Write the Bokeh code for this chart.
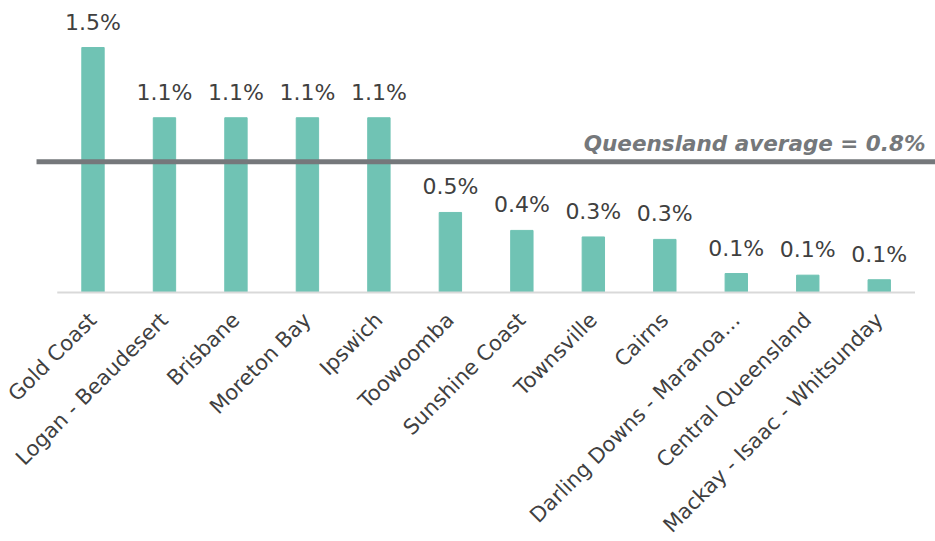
from bokeh.plotting import figure
from bokeh.models import Range1d, Label, LabelSet, ColumnDataSource
from bokeh.core.properties import value
from bokeh.embed import file_html
from bokeh.resources import INLINE
from math import pi

categories = ["Gold Coast", "Logan - Beaudesert", "Brisbane", "Moreton Bay", "Ipswich",
              "Toowoomba", "Sunshine Coast", "Townsville", "Cairns",
              "Darling Downs - Maranoa\u2026", "Central Queensland", "Mackay - Isaac - Whitsunday"]
values = [1.50, 1.07, 1.07, 1.07, 1.07, 0.49, 0.38, 0.34, 0.325, 0.116, 0.106, 0.078]
value_labels = ["1.5%", "1.1%", "1.1%", "1.1%", "1.1%", "0.5%", "0.4%", "0.3%", "0.3%", "0.1%", "0.1%", "0.1%"]
qld_average = 0.8
avg_label = "Queensland average = 0.8%"

FONT = "DejaVu Sans"
TEXT = "#404040"
BAR = "#70C3B4"
AVG = "#75787B"

X0, X1 = -1.294, 11.787
xs = list(range(len(categories)))
src = ColumnDataSource(dict(x=xs, top=values, lab=value_labels,
                            zero=[0] * len(xs), cat=categories))

# frame spans the whole canvas; baseline (0) sits 292 px from the top
p = figure(width=935, height=541, output_backend="svg", toolbar_location=None,
           x_range=Range1d(X0, X1), y_range=Range1d(-1.525, 1.788),
           min_border_left=0, min_border_right=0, min_border_top=0, min_border_bottom=0)
p.outline_line_color = None
p.grid.visible = False
p.xaxis.visible = False
p.yaxis.visible = False

p.vbar(x="x", top="top", bottom=0, width=0.313, source=src, fill_color=BAR, line_color=BAR)

# baseline
p.segment(x0=[-0.5], y0=[0], x1=[len(categories) - 0.5], y1=[0], line_color="#D9D9D9", line_width=2)

p.add_layout(LabelSet(x="x", y="top", text="lab", source=src, text_align="center",
                      text_baseline="alphabetic", y_offset=18, text_font=value(FONT),
                      text_font_size="22px", text_color=TEXT))

# category labels (rotated 45 degrees, right end under each bar)
p.add_layout(LabelSet(x="x", y="zero", text="cat", source=src, angle=pi / 4,
                      text_align="right", text_baseline="middle", x_offset=0, y_offset=-24,
                      text_font=value(FONT), text_font_size="21px", text_color=TEXT))

# Queensland average line
p.segment(x0=[-0.790], y0=[qld_average], x1=[X1], y1=[qld_average],
          line_color=AVG, line_width=5, line_cap="butt")
p.add_layout(Label(x=11.647, y=qld_average, text=avg_label, text_align="right",
                   text_baseline="alphabetic", y_offset=18, text_font=FONT,
                   text_font_size="21.5px", text_font_style="bold italic", text_color=AVG))

open("out.html", "w").write(file_html(p, INLINE))
